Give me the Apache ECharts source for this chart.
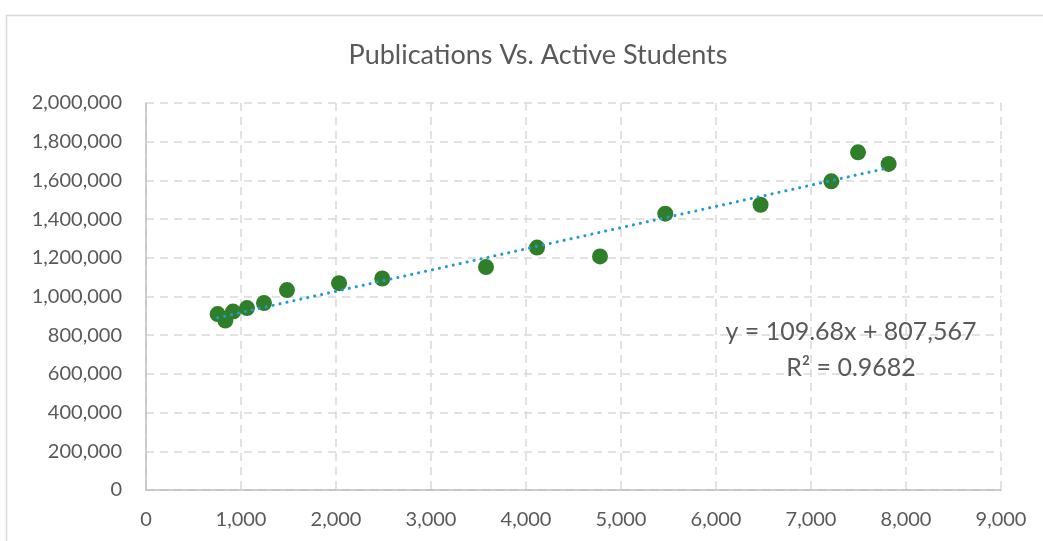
<!DOCTYPE html>
<html>
<head>
<meta charset="utf-8">
<script src="https://cdn.jsdelivr.net/npm/echarts@6/dist/echarts.min.js"></script>
<style>
  html, body { margin: 0; padding: 0; background: #fff; }
  #chart { width: 1043px; height: 541px; }
</style>
</head>
<body>
<div id="chart"></div>
<script>
// active students (x) and publications (y)
const students = [754, 835, 916, 1063, 1242, 1484, 2032, 2487, 3579, 4116, 4779, 5466, 6469, 7214, 7495, 7817];
const publications = [909000, 876000, 922000, 940000, 966000, 1033000, 1069000, 1093000, 1152000, 1253000, 1207000, 1428000, 1474000, 1595000, 1745000, 1685000];

// trendline from the equation shown on the chart
const slope = 109.68;
const intercept = 807567;
const trendLabel = 'y = 109.68x + 807,567';
const r2Label = 'R² = 0.9682';

const xMax = 9000, xStep = 1000;
const yMax = 2000000, yStep = 200000;

const points = students.map((s, i) => [s, publications[i]]);
const xLo = Math.min(...students), xHi = Math.max(...students);
const trend = [[xLo, slope * xLo + intercept], [xHi, slope * xHi + intercept]];

const font = 'Lato, "Open Sans", sans-serif';
const fmt = v => v.toLocaleString('en-US');

const myChart = echarts.init(document.getElementById('chart'));
myChart.setOption({
  animation: false,
  title: {
    text: 'Publications Vs. Active Students',
    left: 533,
    textAlign: 'center',
    top: 37,
    textStyle: { fontFamily: font, fontSize: 27, fontWeight: 'normal', color: '#595959' }
  },
  grid: { left: 146, right: 42, top: 103, bottom: 51 },
  xAxis: {
    type: 'value',
    min: 0, max: xMax, interval: xStep,
    axisLine: { show: true, lineStyle: { color: '#bfbfbf', width: 1.5 } },
    axisTick: { show: false },
    axisLabel: { fontFamily: font, fontSize: 20, color: '#595959', margin: 20, formatter: fmt },
    splitLine: { show: true, lineStyle: { color: '#d9d9d9', type: [8, 6], width: 1.5 } }
  },
  yAxis: {
    type: 'value',
    min: 0, max: yMax, interval: yStep,
    axisLine: { show: true, lineStyle: { color: '#bfbfbf', width: 1.5 } },
    axisTick: { show: false },
    axisLabel: { fontFamily: font, fontSize: 20, color: '#595959', margin: 24, formatter: fmt },
    splitLine: { show: true, lineStyle: { color: '#d9d9d9', type: [8, 6], width: 1.5 } }
  },
  series: [
    {
      name: 'Trend',
      type: 'line',
      data: trend,
      showSymbol: false,
      symbol: 'none',
      lineStyle: { color: '#1f9ad6', width: 3, type: [0.1, 7], cap: 'round' },
      z: 3
    },
    {
      name: 'Publications',
      type: 'scatter',
      data: points,
      symbolSize: 16,
      itemStyle: { color: '#2f7f2a', opacity: 1 },
      z: 2
    }
  ],
  graphic: [
    {
      type: 'rect',
      left: 4, top: 13,
      shape: { width: 1060, height: 560 },
      style: { fill: 'none', stroke: '#d9d9d9', lineWidth: 1.5 },
      silent: true
    },
    {
      type: 'text',
      x: 851, y: 332,
      style: { text: trendLabel, fontFamily: font, fontSize: 25, fill: '#595959', align: 'center', verticalAlign: 'middle' },
      z: 10
    },
    {
      type: 'text',
      x: 851, y: 368,
      style: { text: r2Label, fontFamily: font, fontSize: 25, fill: '#595959', align: 'center', verticalAlign: 'middle' },
      z: 10
    }
  ]
});
window.addEventListener('resize', function () {
  myChart.resize();
});
</script>
</body>
</html>
